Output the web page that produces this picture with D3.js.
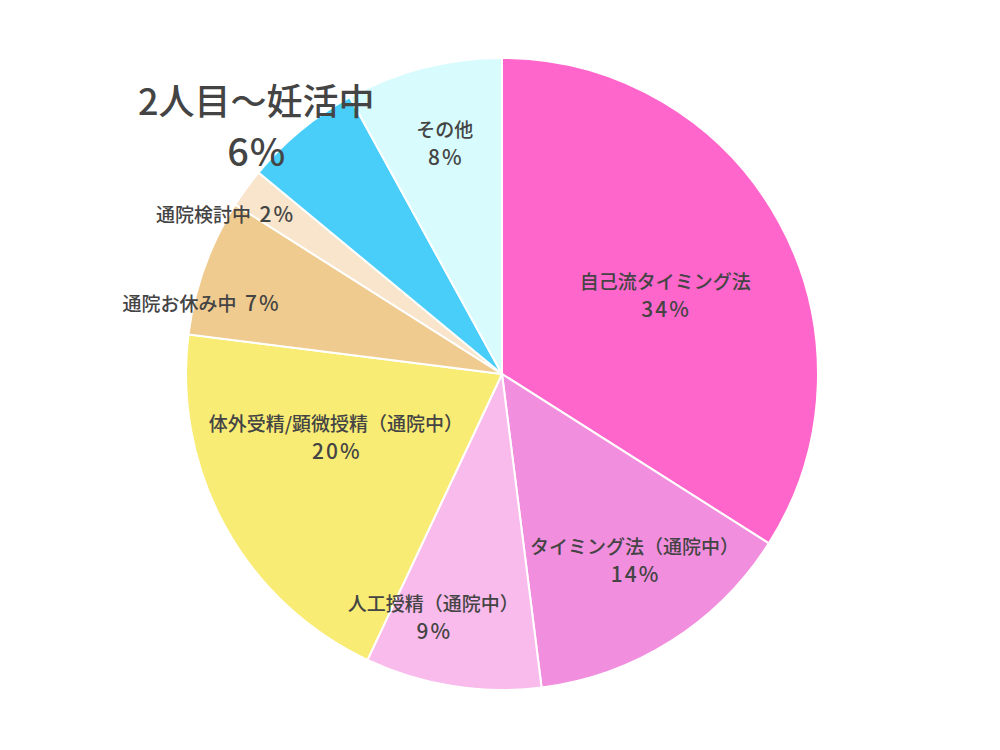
<!DOCTYPE html>
<html lang="ja">
<head>
    <meta charset="UTF-8">
    <title>妊活の状況</title>
    <script src="https://d3js.org/d3.v7.min.js"></script>
    <style>
        body { margin: 0; background: #fff; }
        .slice-label { font-family: "Noto Sans CJK JP", "Noto Sans", sans-serif; font-weight: 500; fill: #444; }
    </style>
</head>
<body>
    <script>
        const categories = ["自己流タイミング法", "タイミング法（通院中）", "人工授精（通院中）", "体外受精/顕微授精（通院中）", "通院お休み中", "通院検討中", "2人目～妊活中", "その他"];
        const values = [34, 14, 9, 20, 7, 2, 6, 8];
        const colors = ["#FF66CC", "#F28EDE", "#F9BBEB", "#F8EC74", "#F0CB8F", "#F8E5CB", "#49CEFA", "#D8FCFE"];

        // how each label is laid out: two lines or one, font size, and a nudge off the centroid
        const labelLines = [2, 2, 2, 2, 1, 1, 2, 2];
        const labelSize = [19, 19, 19, 19, 19, 19, 36, 19];
        const labelShift = [[-3, 11], [31, 25], [-39, 55], [0, -29], [-122, -8], [-123, -50], [-125, -104], [-10, -48]];

        const width = 1000;
        const height = 750;
        const cx = 502, cy = 374, radius = 316;

        const svg = d3.select("body")
            .append("svg")
            .attr("width", width)
            .attr("height", height);

        const g = svg.append("g")
            .attr("transform", `translate(${cx},${cy})`);

        const data = categories.map((c, i) => ({ name: c, value: values[i], i: i }));

        const pie = d3.pie()
            .sort(null)
            .value(d => d.value);

        const arc = d3.arc()
            .innerRadius(0)
            .outerRadius(radius);

        const labelArc = d3.arc()
            .innerRadius(radius * 0.6)
            .outerRadius(radius * 0.6);

        const arcs = pie(data);

        g.selectAll("path")
            .data(arcs)
            .enter().append("path")
            .attr("d", arc)
            .attr("fill", d => colors[d.data.i])
            .attr("stroke", "#fff")
            .attr("stroke-width", 2);

        const label = g.selectAll("text")
            .data(arcs)
            .enter().append("text")
            .attr("class", "slice-label")
            .attr("text-anchor", "middle")
            .attr("dominant-baseline", "central")
            .style("font-size", d => labelSize[d.data.i] + "px")
            .attr("transform", d => {
                const c = labelArc.centroid(d);
                const s = labelShift[d.data.i];
                return `translate(${c[0] + s[0]},${c[1] + s[1]})`;
            });

        label.each(function(d) {
            const t = d3.select(this);
            const i = d.data.i;
            const size = labelSize[i];
            const big = size > 30;
            const pct = d.data.value + "%";
            // percentages are drawn a bit bigger and looser, like the reference
            const pctSize = size * (big ? 1.05 : 1.1);
            const pctGap = big ? 1 : size * 0.11;
            if (labelLines[i] === 1) {
                t.append("tspan").attr("x", 0).attr("y", 0).text(d.data.name);
                t.append("tspan")
                    .attr("dx", size * 0.45)
                    .style("font-size", pctSize + "px")
                    .style("letter-spacing", pctGap + "px")
                    .text(pct);
            } else {
                const half = size * (big ? 0.69 : 0.74);
                t.append("tspan").attr("x", 0).attr("y", -half).text(d.data.name);
                t.append("tspan")
                    .attr("x", pctGap / 2).attr("y", half)
                    .style("font-size", pctSize + "px")
                    .style("letter-spacing", pctGap + "px")
                    .text(pct);
            }
        });
    </script>
</body>
</html>
